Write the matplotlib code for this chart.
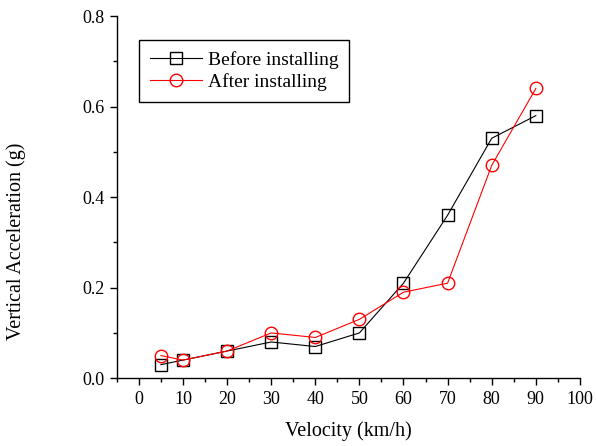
import numpy as np
import matplotlib.pyplot as plt
from matplotlib.ticker import MultipleLocator

velocity = [5, 10, 20, 30, 40, 50, 60, 70, 80, 90]
before = [0.03, 0.04, 0.06, 0.08, 0.07, 0.10, 0.21, 0.36, 0.53, 0.58]
after = [0.05, 0.04, 0.06, 0.10, 0.09, 0.13, 0.19, 0.21, 0.47, 0.64]

plt.rcParams['font.family'] = ['Liberation Serif', 'DejaVu Serif']
plt.rcParams['font.size'] = 13

fig = plt.figure(figsize=(5.96, 4.46), dpi=100)
ax = fig.add_axes([0.196, 0.152, 0.777, 0.812])

ax.plot(velocity, before, color='black', lw=0.8, marker='s', ms=8.5,
        mfc='none', mec='black', mew=1.0, label='Before installing')
ax.plot(velocity, after, color='red', lw=0.8, marker='o', ms=9,
        mfc='none', mec='red', mew=1.0, label='After installing')

ax.set_xlim(-5, 100)
ax.set_ylim(0, 0.8)
ax.xaxis.set_major_locator(MultipleLocator(10))
ax.xaxis.set_minor_locator(MultipleLocator(5))
ax.yaxis.set_major_locator(MultipleLocator(0.2))
ax.yaxis.set_minor_locator(MultipleLocator(0.1))
ax.yaxis.set_major_formatter(plt.FormatStrFormatter('%.1f'))
ax.tick_params(which='both', direction='out', width=1.0)
ax.tick_params(which='major', length=5, labelsize=13, pad=4)
ax.tick_params(which='minor', length=3)

for s in ['top', 'right']:
    ax.spines[s].set_visible(False)
for s in ['left', 'bottom']:
    ax.spines[s].set_linewidth(1.0)

ax.set_xlabel('Velocity (km/h)', fontsize=14.5, labelpad=10)
ax.set_ylabel('Vertical Acceleration (g)', fontsize=14.5)
ax.yaxis.set_label_coords(-0.197, 0.378)

leg = ax.legend(loc='upper left', bbox_to_anchor=(0.0475, 0.934),
                borderaxespad=0, fontsize=14,
                fancybox=False, edgecolor='black', framealpha=1,
                handlelength=2.7, borderpad=0.55, labelspacing=0.25,
                handletextpad=0.3)
leg.get_frame().set_linewidth(1.0)

fig.savefig('out.png', dpi=100)
